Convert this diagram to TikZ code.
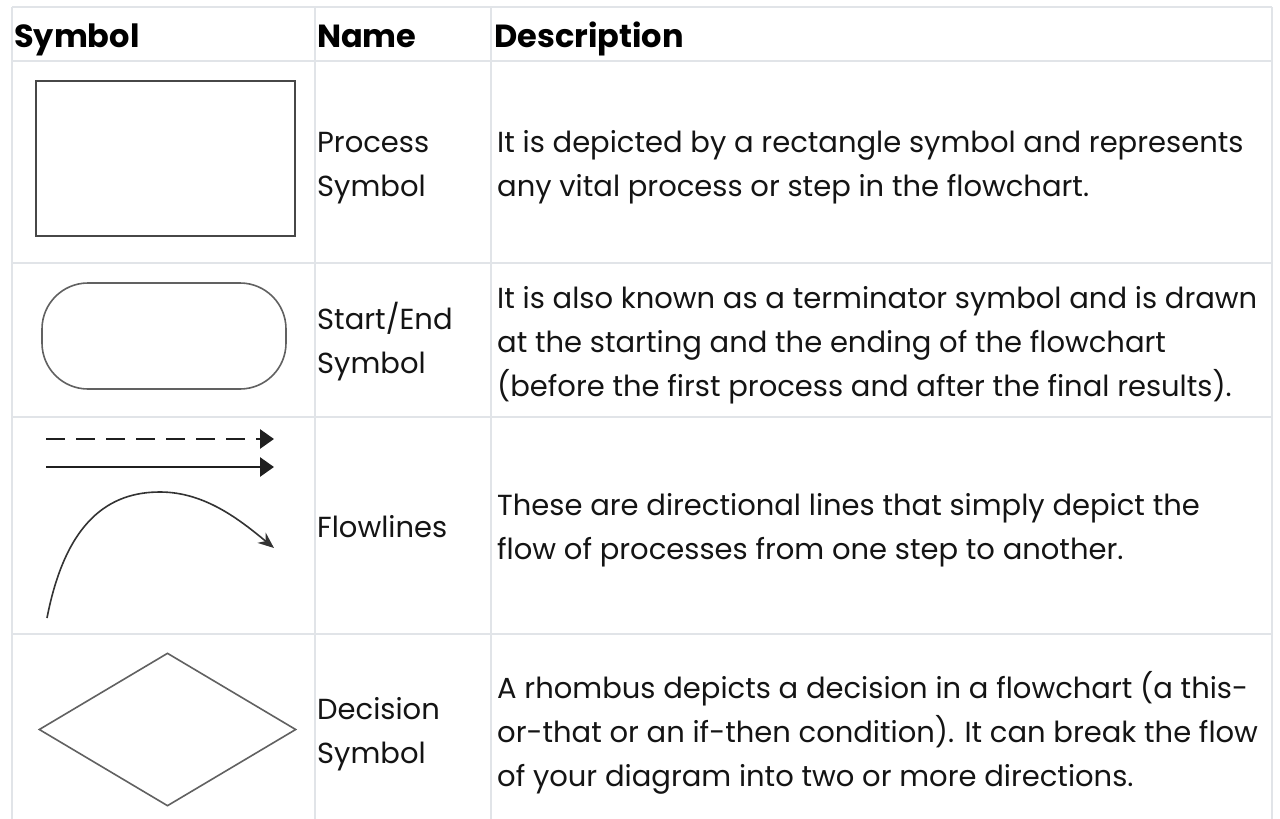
\documentclass[tikz,border=0pt]{standalone}
\usepackage{fontspec}
\setmainfont{Poppins}
\usetikzlibrary{arrows.meta,shapes.geometric}
\definecolor{gridgray}{HTML}{E1E4E8}
\begin{document}
\begin{tikzpicture}[x=1pt,y=-1pt,
  rule/.style={draw=gridgray,line width=2pt},
  head/.style={anchor=base west,inner sep=0,font=\fontsize{32}{44}\selectfont\bfseries},
  cell/.style={anchor=base west,inner sep=0,align=left,text=black!92,font=\fontsize{29}{44}\selectfont},
  sym/.style={draw=black!62,line width=1.6pt,inner sep=0},
  flow/.style={black!88,line width=2.8pt,-{Triangle[length=14pt,width=19pt]}}]
\useasboundingbox[fill=white](0,0)rectangle(1280,819);
% table rules
\foreach \y in {7,61,263,417,634}\draw[rule](12,\y)--(1272,\y);
\foreach \x in {12,315,491,1272}\draw[rule](\x,7)--(\x,819);
% header
\node[head](hsym)at(14,47){Symbol};
\node[head](hname)at(317,47){Name};
\node[head](hdesc)at(494,47){Description};
% process (cells sit on the baseline of their last line)
\node[sym,draw=black!72,minimum width=259pt,minimum height=155pt](proc)at(165.5,158.5){};
\node[cell](nproc)at(317,196){Process\\Symbol};
\node[cell](dproc)at(497,196){It is depicted by a rectangle symbol and represents\\any vital process or step in the flowchart.};
% start / end
\node[sym,rounded corners=46pt,minimum width=244pt,minimum height=106pt](term)at(164,336){};
\node[cell](nterm)at(317,373){Start/End\\Symbol};
\node[cell](dterm)at(497,396){It is also known as a terminator symbol and is drawn\\at the starting and the ending of the flowchart\\(before the first process and after the final results).};
% flowlines
\coordinate(dash0)at(46,439);\coordinate(dash1)at(274,439);
\coordinate(line0)at(46,467);\coordinate(line1)at(274,467);
\coordinate(arc0)at(47,618);\coordinate(arc1)at(160,492);\coordinate(arc2)at(274,548);
\draw[flow,dash pattern=on 19pt off 11pt](dash0)--(dash1);
\draw[flow](line0)--(line1);
\draw[black!80,line width=1.6pt,-{Stealth[length=16pt,width=13pt]}](arc0)..controls(66,520)and(110,492)..(arc1)..controls(205,492)and(240,520)..(arc2);
\node[cell](nflow)at(317,537){Flowlines};
\node[cell](dflow)at(497,559){These are directional lines that simply depict the\\flow of processes from one step to another.};
% decision
\node[sym,diamond,minimum width=257pt,minimum height=153pt](dec)at(167.5,729.5){};
\node[cell](ndec)at(317,763){Decision\\Symbol};
\node[cell](ddec)at(497,786){A rhombus depicts a decision in a flowchart (a this-\\or-that or an if-then condition). It can break the flow\\of your diagram into two or more directions.};
\end{tikzpicture}
\end{document}
